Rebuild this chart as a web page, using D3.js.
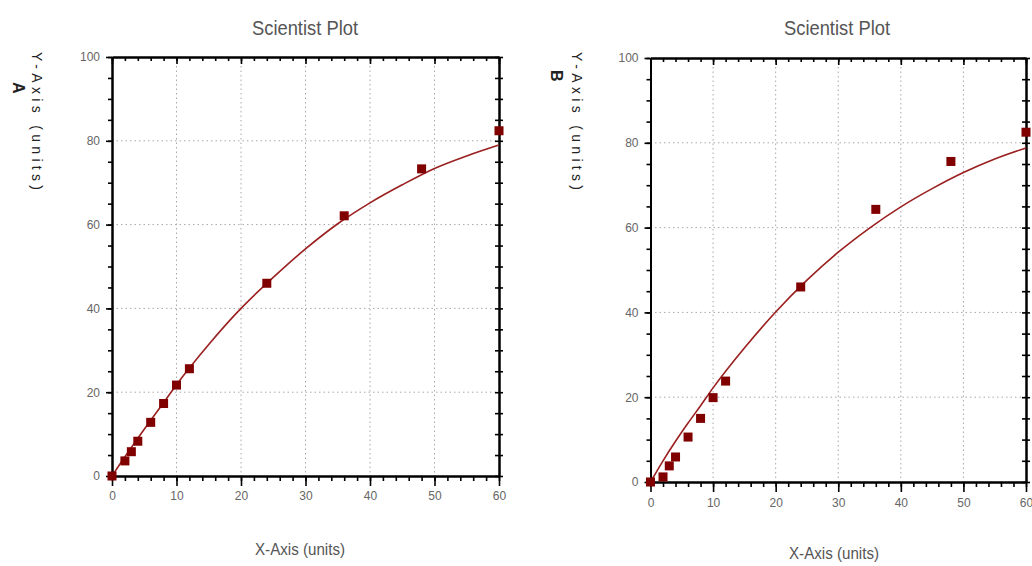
<!DOCTYPE html>
<html>
<head>
<meta charset="utf-8">
<script src="https://cdn.jsdelivr.net/npm/d3@7"></script>
<style>
  html, body { margin: 0; padding: 0; background: #fff; }
  svg { display: block; }
  .narrow { font-family: "Liberation Sans Narrow", "Arial Narrow", "Liberation Sans", Arial, sans-serif; }
</style>
</head>
<body>
<svg id="chart" width="1032" height="566"></svg>
<script>
// ---------------- data ----------------
const xTicks = [0, 10, 20, 30, 40, 50, 60];
const yTicks = [0, 20, 40, 60, 80, 100];
const titleText = "Scientist Plot";
const xLabelText = "X-Axis (units)";
const yLabelText = "Y-Axis (units)";
const panelLetters = ["A", "B"];

// panel A measured points
const aPointX = [0, 2, 3, 4, 6, 8, 10, 12, 24, 36, 48, 60];
const aPointY = [0, 3.6, 5.8, 8.3, 12.8, 17.3, 21.7, 25.6, 46.0, 62.1, 73.3, 82.4];
// panel A fitted curve
const aCurveX = [0, 2, 4, 6, 8, 10, 15, 20, 25, 30, 35, 40, 45, 50, 55, 60];
const aCurveY = [0, 4.6, 9.0, 13.3, 17.5, 21.8, 31.4, 40.0, 47.4, 54.2, 60.2, 65.2, 69.5, 73.4, 76.4, 79.0];

// panel B measured points
const bPointX = [0, 2, 3, 4, 6, 8, 10, 12, 24, 36, 48, 60];
const bPointY = [0, 1.2, 3.8, 5.9, 10.6, 15.0, 19.9, 23.8, 46.0, 64.3, 75.6, 82.5];
// panel B fitted curve
const bCurveX = [0, 2, 4, 6, 8, 10, 15, 20, 25, 30, 35, 40, 45, 50, 55, 60];
const bCurveY = [0, 5.0, 9.6, 13.9, 18.0, 22.2, 31.6, 40.1, 47.6, 54.2, 59.9, 64.9, 69.2, 73.0, 76.2, 78.8];

// ---------------- drawing ----------------
const svg = d3.select("#chart");

const panels = [
  { letter: panelLetters[0], px: aPointX, py: aPointY, cx: aCurveX, cy: aCurveY,
    x0: 112, x1: 499, y0: 476, y1: 57, titleX: 305, xLabelX: 300, xLabelY: 555,
    yLabelX: 37, letterX: 19, letterY: 82, xPad: 15 },
  { letter: panelLetters[1], px: bPointX, py: bPointY, cx: bCurveX, cy: bCurveY,
    x0: 650.5, x1: 1026, y0: 482, y1: 58, titleX: 837, xLabelX: 834, xLabelY: 559,
    yLabelX: 577, letterX: 557, letterY: 70, xPad: 16 }
];

const lineColor = "#9a1f1f";
const markerColor = "#800000";

panels.forEach(p => {
  const g = svg.append("g");
  const x = d3.scaleLinear().domain([0, 60]).range([p.x0, p.x1]);
  const y = d3.scaleLinear().domain([0, 100]).range([p.y0, p.y1]);

  // grid
  const grid = g.append("g").attr("stroke", "#a8a8a8").attr("stroke-width", 1)
    .attr("stroke-dasharray", "1.5,3");
  grid.selectAll("line.gx").data(xTicks.slice(1, -1)).join("line")
    .attr("x1", d => x(d)).attr("x2", d => x(d))
    .attr("y1", y(100)).attr("y2", y(0));
  grid.selectAll("line.gy").data(yTicks.slice(1, -1)).join("line")
    .attr("x1", x(0)).attr("x2", x(60))
    .attr("y1", d => y(d)).attr("y2", d => y(d));

  const minorX = d3.range(0, 61, 2);
  const minorY = d3.range(0, 101, 5);

  function styleAxis(sel) {
    sel.select(".domain").attr("stroke", "#000").attr("stroke-width", 2);
    sel.selectAll(".tick line").attr("stroke", "#000").attr("stroke-width", 1.6);
    sel.selectAll(".tick text").attr("class", "narrow")
      .attr("font-size", 12).attr("fill", "#666");
  }

  // bottom axis
  g.append("g").attr("transform", `translate(0,${y(0)})`)
    .call(d3.axisBottom(x).tickValues(minorX).tickSize(5).tickSizeOuter(0).tickFormat(""))
    .call(styleAxis);
  g.append("g").attr("transform", `translate(0,${y(0)})`)
    .call(d3.axisBottom(x).tickValues(xTicks).tickSize(10).tickSizeOuter(0).tickPadding(p.xPad - 10))
    .call(styleAxis);
  // top axis (ticks pointing inward)
  g.append("g").attr("transform", `translate(0,${y(100)})`)
    .call(d3.axisBottom(x).tickValues(minorX).tickSize(4).tickSizeOuter(0).tickFormat(""))
    .call(styleAxis);
  g.append("g").attr("transform", `translate(0,${y(100)})`)
    .call(d3.axisBottom(x).tickValues(xTicks).tickSize(7).tickSizeOuter(0).tickFormat(""))
    .call(styleAxis);
  // left axis
  g.append("g").attr("transform", `translate(${x(0)},0)`)
    .call(d3.axisLeft(y).tickValues(minorY).tickSize(4).tickSizeOuter(0).tickFormat(""))
    .call(styleAxis);
  g.append("g").attr("transform", `translate(${x(0)},0)`)
    .call(d3.axisLeft(y).tickValues(yTicks).tickSize(6).tickSizeOuter(0).tickPadding(6))
    .call(styleAxis);
  // right axis (ticks crossing)
  g.append("g").attr("transform", `translate(${x(60)},0)`)
    .call(d3.axisRight(y).tickValues(minorY).tickSize(4).tickSizeOuter(0).tickFormat(""))
    .call(styleAxis);
  g.append("g").attr("transform", `translate(${x(60)},0)`)
    .call(d3.axisLeft(y).tickValues(minorY).tickSize(4).tickSizeOuter(0).tickFormat(""))
    .call(styleAxis);

  // fitted curve
  const curve = p.cx.map((v, i) => [v, p.cy[i]]);
  g.append("path").datum(curve)
    .attr("fill", "none").attr("stroke", lineColor).attr("stroke-width", 1.6)
    .attr("d", d3.line().x(d => x(d[0])).y(d => y(d[1])).curve(d3.curveMonotoneX));

  // points
  const pts = p.px.map((v, i) => [v, p.py[i]]);
  const s = 9;
  g.selectAll("rect.pt").data(pts).join("rect")
    .attr("x", d => x(d[0]) - s / 2).attr("y", d => y(d[1]) - s / 2)
    .attr("width", s).attr("height", s).attr("fill", markerColor);

  // title
  svg.append("text").attr("class", "narrow")
    .attr("x", p.titleX).attr("y", 35).attr("text-anchor", "middle")
    .attr("font-size", 21).attr("fill", "#555")
    .attr("textLength", 106).attr("lengthAdjust", "spacingAndGlyphs").text(titleText);
  // x label
  svg.append("text").attr("class", "narrow")
    .attr("x", p.xLabelX).attr("y", p.xLabelY).attr("text-anchor", "middle")
    .attr("font-size", 16).attr("fill", "#555")
    .attr("textLength", 90).attr("lengthAdjust", "spacingAndGlyphs").text(xLabelText);
  // y label (rotated, reading top to bottom)
  svg.append("text").attr("class", "narrow")
    .attr("transform", `translate(${p.yLabelX - 5},52) rotate(90)`)
    .attr("text-anchor", "start").attr("font-size", 14)
    .attr("textLength", 138).attr("lengthAdjust", "spacing")
    .attr("fill", "#222").text(yLabelText);
  // panel letter
  svg.append("text")
    .attr("transform", `translate(${p.letterX - 6},${p.letterY}) rotate(90)`)
    .attr("text-anchor", "start").attr("font-family", "Liberation Sans, Arial, sans-serif")
    .attr("font-size", 16).attr("font-weight", "bold").attr("fill", "#222").text(p.letter);
});
</script>
</body>
</html>
